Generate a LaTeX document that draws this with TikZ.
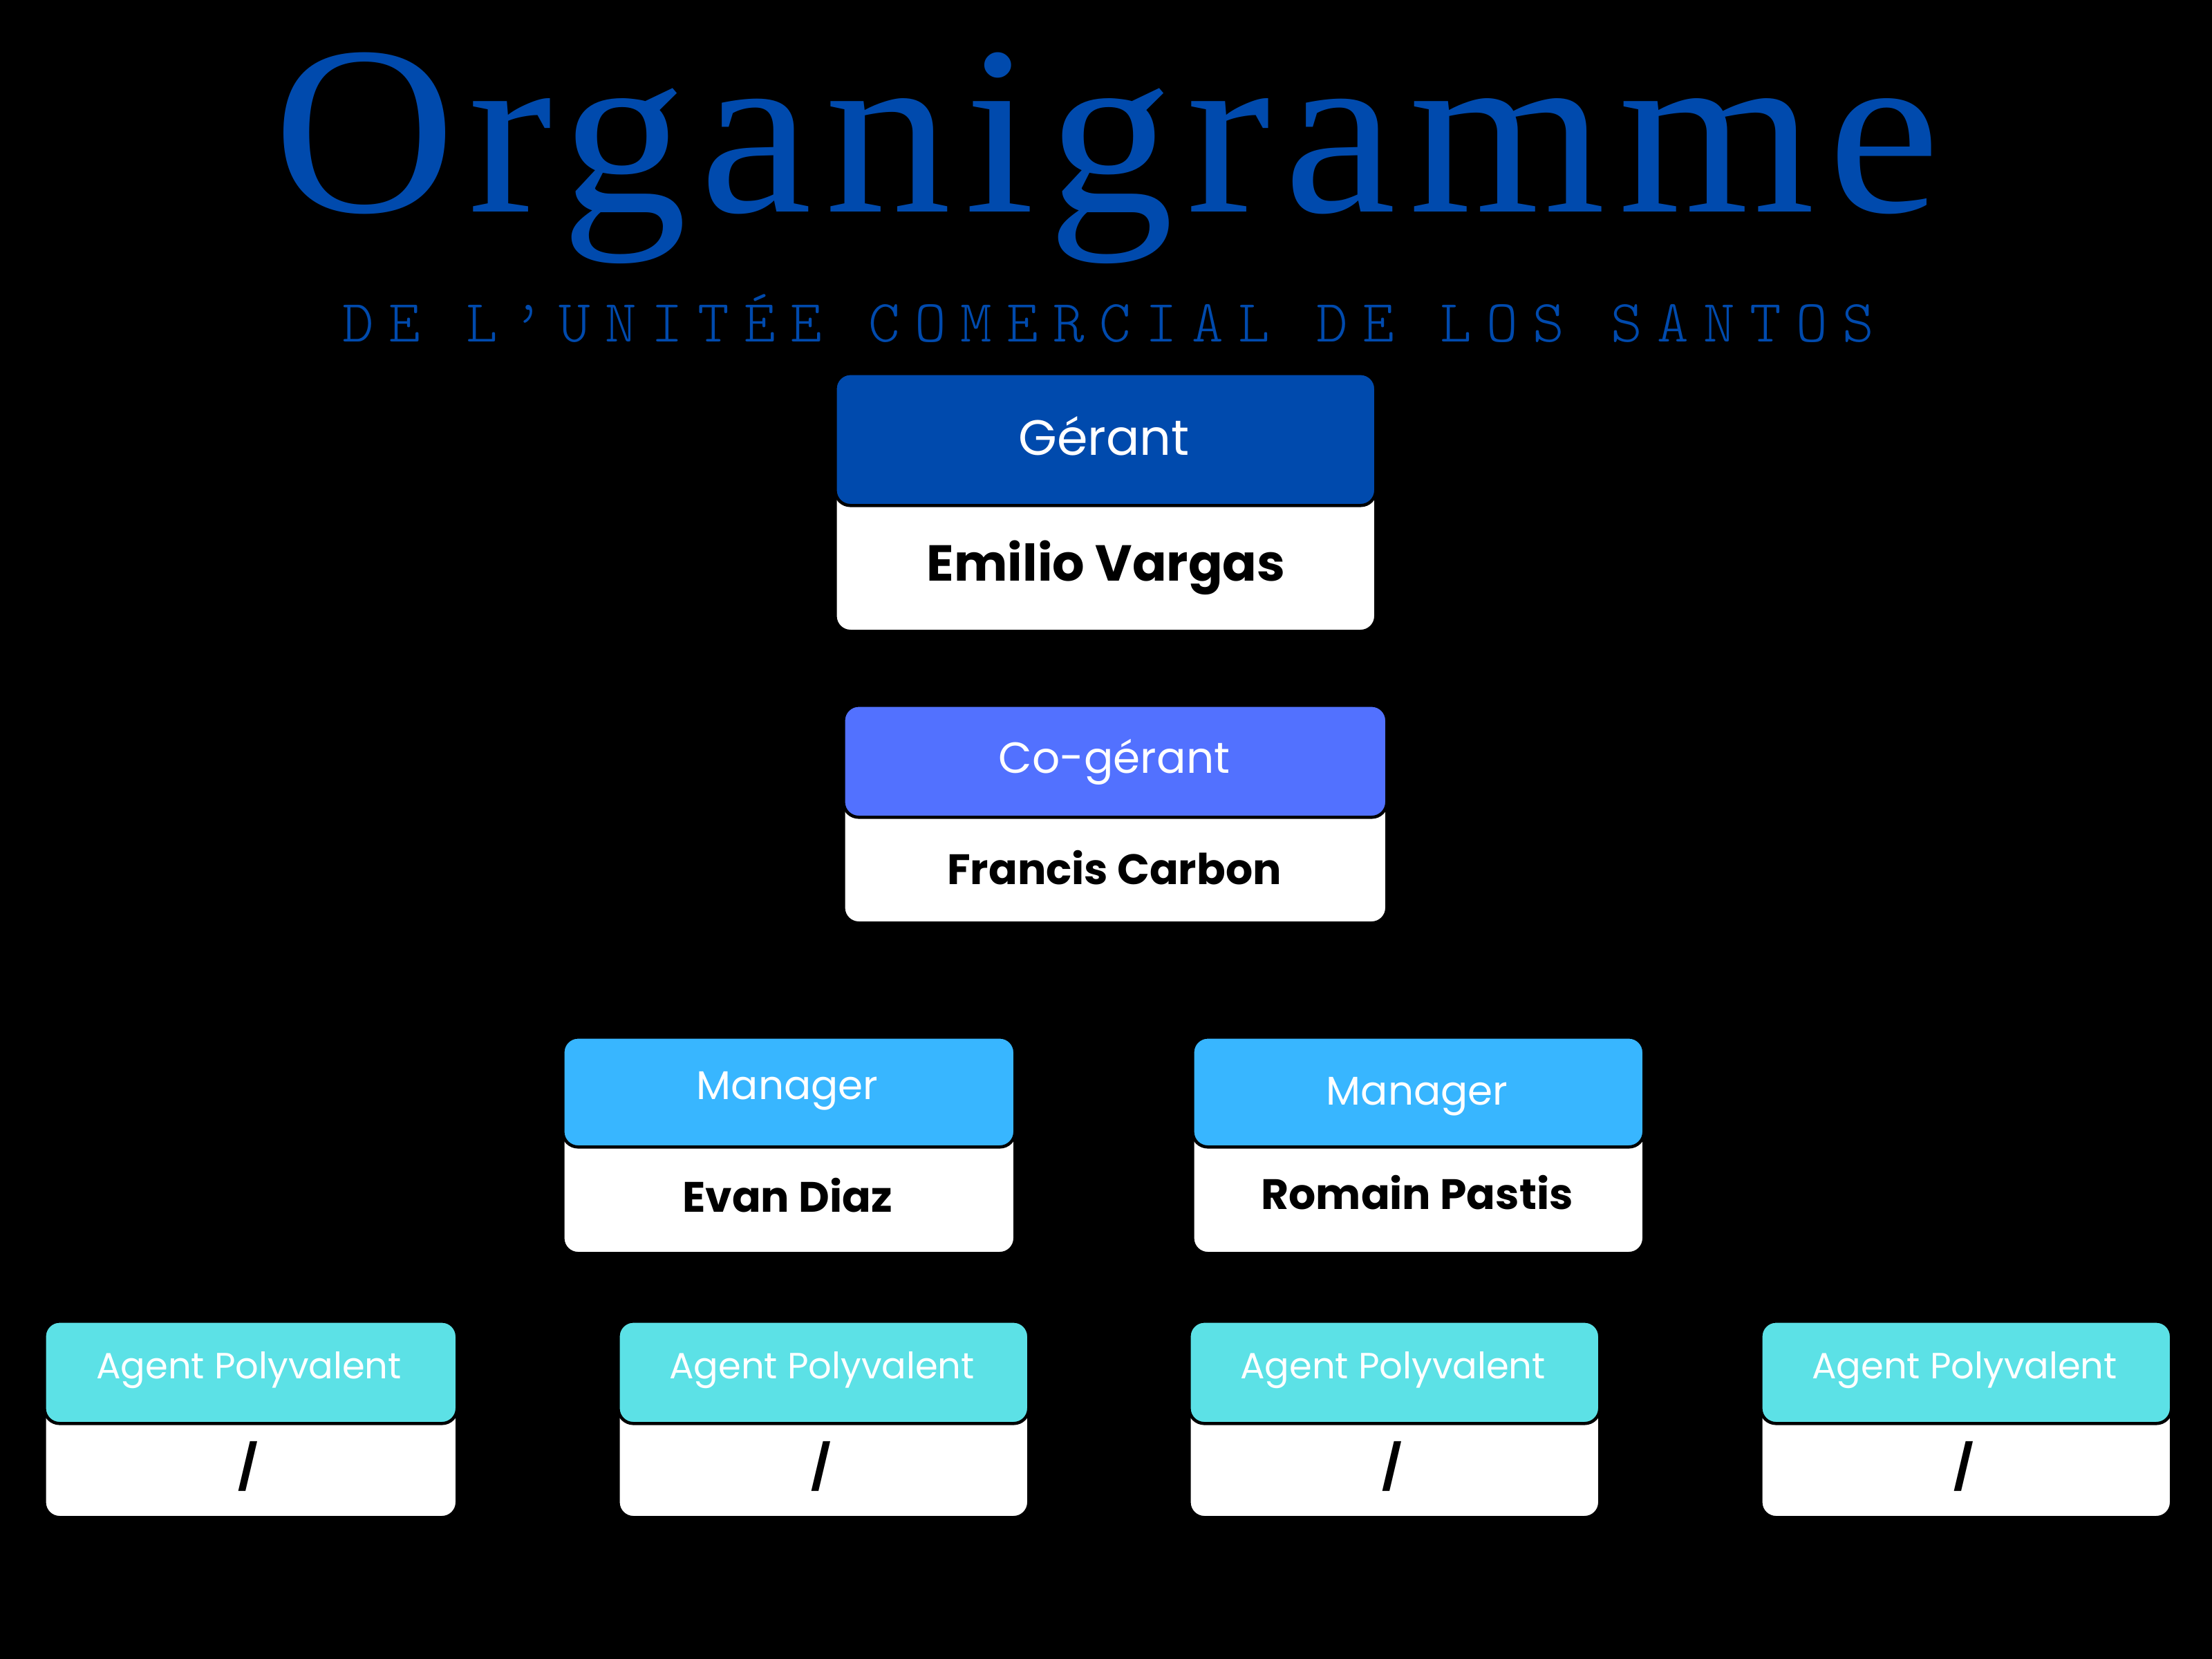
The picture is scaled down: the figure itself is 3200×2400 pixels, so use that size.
\documentclass[tikz,border=0pt]{standalone}
\usepackage{fontspec}
\setmainfont{Poppins}
\newfontfamily\titlefont[LetterSpace=5.1]{Liberation Serif}
\newfontfamily\subfont[LetterSpace=24.6]{lmmonolt10-regular.otf}
\definecolor{titleblue}{HTML}{004AAD}
\definecolor{gerantc}{HTML}{004AAD}
\definecolor{cogerantc}{HTML}{5271FF}
\definecolor{managerc}{HTML}{38B6FF}
\definecolor{agentc}{HTML}{5CE1E6}
\tikzset{
  cardbody/.style={draw=black, line width=1.3pt, fill=white, rounded corners=0.22cm, inner sep=0pt, anchor=north west},
  cardhead/.style={draw=black, line width=1.3pt, fill=#1, rounded corners=0.22cm, inner sep=0pt, anchor=north west},
  roletext/.style={text=white, inner sep=0pt, anchor=base, font=\fontsize{#1}{#1}\selectfont},
  nametext/.style={text=black, inner sep=0pt, anchor=base, font=\fontsize{#1}{#1}\selectfont\bfseries},
}
% #1 name, #2 left, #3 top, #4 right, #5 split, #6 bottom, #7 colour
\newcommand\orgcard[7]{%
  \node[cardbody, minimum width={(#4-#2)*0.01cm}, minimum height={(#6-#3)*0.01cm}] (#1-body) at (#2,#3) {};
  \node[cardhead=#7, minimum width={(#4-#2)*0.01cm}, minimum height={(#5-#3)*0.01cm}] (#1-head) at (#2,#3) {};
}
\begin{document}
\begin{tikzpicture}[x=0.01cm, y=-0.01cm]
\fill[black] (0,0) rectangle (3200,2400);
\useasboundingbox (0,0) rectangle (3200,2400);

\node[inner sep=0pt, anchor=base, text=titleblue, xscale=1.05, font=\titlefont\fontsize{99}{100}\selectfont] (title) at (1601,307) {Organigramme};
\node[inner sep=0pt, anchor=base, text=titleblue, font=\subfont\fontsize{24.7}{25}\selectfont] (subtitle) at (1603,494) {DE L’UNITÉE COMERCIAL DE LOS SANTOS};

% Gérant
\orgcard{g}{1206}{538}{1988}{729}{911}{gerantc}
\node[roletext=20.4] (g-role) at (1597,658) {Gérant};
\node[nametext=20.8] (g-name) at (1600,840) {Emilio Vargas};

% Co-gérant
\orgcard{cg}{1218}{1018}{2004}{1180}{1333}{cogerantc}
\node[roletext=17.9] (cg-role) at (1612,1118) {Co-gérant};
\node[nametext=17.5] (cg-name) at (1612,1279) {Francis Carbon};

% Managers
\orgcard{m1}{812}{1498}{1466}{1657}{1811}{managerc}
\node[roletext=16.5] (m1-role) at (1139,1590) {Manager};
\node[nametext=17.5] (m1-name) at (1139,1753) {Evan Diaz};

\orgcard{m2}{1723}{1498}{2376}{1657}{1811}{managerc}
\node[roletext=16.5] (m2-role) at (2050,1598) {Manager};
\node[nametext=17.5] (m2-name) at (2050,1749) {Romain Pastis};

% Agents
\orgcard{a1}{62}{1909}{659}{2057}{2193}{agentc}
\node[roletext=15] (a1-role) at (360,1994) {Agent Polyvalent};
\node[nametext=18] (a1-name) at (359,2145) {/};

\orgcard{a2}{892}{1909}{1486}{2057}{2193}{agentc}
\node[roletext=15] (a2-role) at (1189,1994) {Agent Polyvalent};
\node[nametext=18] (a2-name) at (1188,2145) {/};

\orgcard{a3}{1718}{1909}{2312}{2057}{2193}{agentc}
\node[roletext=15] (a3-role) at (2015,1994) {Agent Polyvalent};
\node[nametext=18] (a3-name) at (2014,2145) {/};

\orgcard{a4}{2545}{1909}{3139}{2057}{2193}{agentc}
\node[roletext=15] (a4-role) at (2842,1994) {Agent Polyvalent};
\node[nametext=18] (a4-name) at (2841,2145) {/};
\end{tikzpicture}
\end{document}
